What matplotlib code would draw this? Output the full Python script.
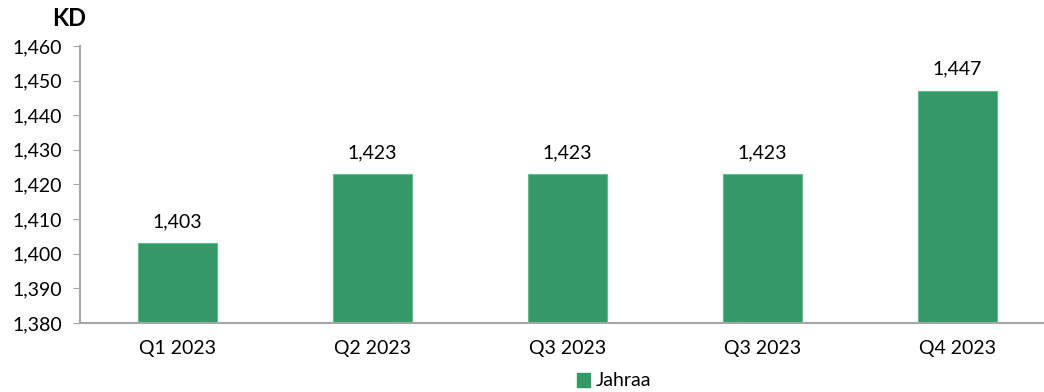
import matplotlib
matplotlib.use("Agg")
import matplotlib.pyplot as plt
from matplotlib.patches import Patch

quarters = ["Q1 2023", "Q2 2023", "Q3 2023", "Q3 2023", "Q4 2023"]
jahraa = [1403, 1423, 1423, 1423, 1447]
y_ticks = [1380, 1390, 1400, 1410, 1420, 1430, 1440, 1450, 1460]

GREEN = "#339966"
AXIS = "#a6a6a6"
plt.rcParams["font.family"] = ["Lato", "DejaVu Sans"]

fig = plt.figure(figsize=(10.44, 3.92), dpi=100)
ax = fig.add_axes([80 / 1044, 69 / 392, 963 / 1044, 277 / 392])

x = list(range(len(quarters)))
bars = ax.bar(x, [v - 1380 for v in jahraa], bottom=1380, width=0.405,
              color=GREEN, edgecolor="#5fbf8f", linewidth=0.8)
for xi, v in zip(x, jahraa):
    ax.text(xi, v + 3.8, f"{v:,}", ha="center", va="bottom", fontsize=14)

ax.set_xlim(-0.5, -0.5 + 963 / 195)
ax.set_ylim(1380, 1460)
ax.set_yticks(y_ticks)
ax.set_yticklabels([f"{t:,}" for t in y_ticks], fontsize=14)
ax.set_xticks(x)
ax.set_xticklabels(quarters, fontsize=14)
ax.tick_params(axis="x", length=0, pad=12)
ax.tick_params(axis="y", length=5, color=AXIS, pad=8)

for side in ["top", "right"]:
    ax.spines[side].set_visible(False)
for side in ["left", "bottom"]:
    ax.spines[side].set_color(AXIS)
    ax.spines[side].set_linewidth(1.5)

fig.text(52 / 1044, 1 - 19 / 392, "KD", fontsize=17, fontweight="bold",
         ha="left", va="center")

fig.legend(handles=[Patch(color=GREEN, label="Jahraa")], loc="center",
           bbox_to_anchor=(614 / 1044, 1 - 381 / 392), frameon=False,
           fontsize=14, handlelength=0.7, handleheight=0.7, handletextpad=0.3)

fig.savefig("out.png", dpi=100)
